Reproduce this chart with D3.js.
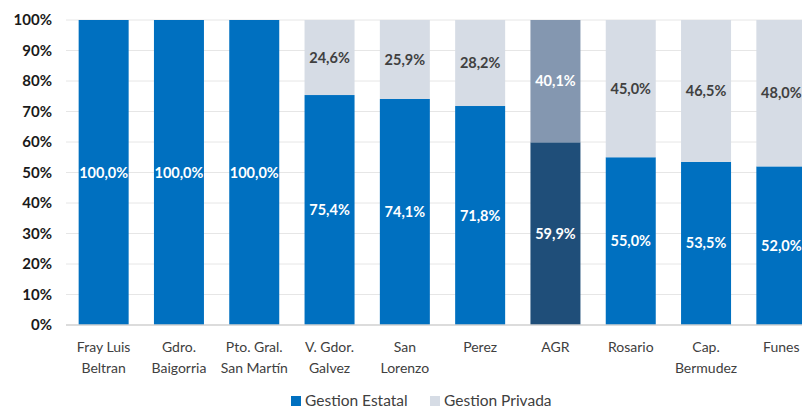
<!DOCTYPE html>
<html>
<head>
<meta charset="utf-8">
<script src="https://cdn.jsdelivr.net/npm/d3@7"></script>
<style>
  body { margin: 0; background: #fff; }
  svg text { font-family: Lato, "Open Sans", sans-serif; }
</style>
</head>
<body>
<svg id="chart" width="802" height="410"></svg>
<script>
// categories (each label split in two lines)
const categories = [
  ["Fray Luis", "Beltran"],
  ["Gdro.", "Baigorria"],
  ["Pto. Gral.", "San Martín"],
  ["V. Gdor.", "Galvez"],
  ["San", "Lorenzo"],
  ["Perez"],
  ["AGR"],
  ["Rosario"],
  ["Cap.", "Bermudez"],
  ["Funes"]
];
const estatal = [100.0, 100.0, 100.0, 75.4, 74.1, 71.8, 59.9, 55.0, 53.5, 52.0];
const privada = [0, 0, 0, 24.6, 25.9, 28.2, 40.1, 45.0, 46.5, 48.0];
const yTicks = [0, 10, 20, 30, 40, 50, 60, 70, 80, 90, 100];
const seriesNames = ["Gestion Estatal", "Gestion Privada"];

const margin = { top: 20, right: -17, bottom: 85, left: 66 };
const width = 802 - margin.left - margin.right;
const height = 410 - margin.top - margin.bottom;

const svg = d3.select("#chart");
const g = svg.append("g").attr("transform", `translate(${margin.left},${margin.top})`);

const keys = categories.map((c, i) => i);
const x = d3.scaleBand().domain(keys).range([0, width]).paddingInner(0.336).paddingOuter(0.168);
const y = d3.scaleLinear().domain([0, 100]).range([height, 0]);

const fmt = v => v.toFixed(1).replace(".", ",") + "%";
const isAgr = i => categories[i][0] === "AGR";

// grid
g.selectAll(".grid").data(yTicks.slice(1)).enter().append("line")
  .attr("x1", 0).attr("x2", width)
  .attr("y1", d => y(d)).attr("y2", d => y(d))
  .attr("stroke", "#e6e6e6").attr("stroke-width", 1);

// y axis labels
const yAxis = g.append("g").call(d3.axisLeft(y).tickValues(yTicks).tickFormat(d => d + "%").tickSize(0).tickPadding(14));
yAxis.select(".domain").remove();
yAxis.selectAll("text")
  .attr("font-size", 15).attr("font-weight", "bold").attr("fill", "#1a1a1a")
  .style("font-family", "Lato, sans-serif");

// bars
const estColor = i => isAgr(i) ? "#1f4e79" : "#0070c0";
const priColor = i => isAgr(i) ? "#8497b0" : "#d6dce5";

g.selectAll(".est").data(keys).enter().append("rect")
  .attr("x", i => x(i)).attr("width", x.bandwidth())
  .attr("y", i => y(estatal[i])).attr("height", i => y(0) - y(estatal[i]))
  .attr("fill", estColor);

g.selectAll(".pri").data(keys.filter(i => privada[i] > 0)).enter().append("rect")
  .attr("x", i => x(i)).attr("width", x.bandwidth())
  .attr("y", i => y(estatal[i] + privada[i])).attr("height", i => y(estatal[i]) - y(estatal[i] + privada[i]))
  .attr("fill", priColor);

// baseline
g.append("line").attr("x1", 0).attr("x2", width).attr("y1", y(0)).attr("y2", y(0))
  .attr("stroke", "#d0d0d0").attr("stroke-width", 1.5);

// value labels
g.selectAll(".estLbl").data(keys).enter().append("text")
  .attr("x", i => x(i) + x.bandwidth() / 2)
  .attr("y", i => y(estatal[i] / 2))
  .attr("dy", "0.35em").attr("text-anchor", "middle")
  .attr("font-size", 14.5).attr("font-weight", "bold").attr("fill", "#fff")
  .text(i => fmt(estatal[i]));

g.selectAll(".priLbl").data(keys.filter(i => privada[i] > 0)).enter().append("text")
  .attr("x", i => x(i) + x.bandwidth() / 2)
  .attr("y", i => y(estatal[i] + privada[i] / 2))
  .attr("dy", "0.35em").attr("text-anchor", "middle")
  .attr("font-size", 14.5).attr("font-weight", "bold")
  .attr("fill", i => isAgr(i) ? "#fff" : "#404040")
  .text(i => fmt(privada[i]));

// category labels
const cat = g.selectAll(".cat").data(keys).enter().append("text")
  .attr("x", i => x(i) + x.bandwidth() / 2)
  .attr("y", height + 27)
  .attr("text-anchor", "middle").attr("font-size", 14).attr("fill", "#404040");
cat.selectAll("tspan").data(i => categories[i].map(t => ({ t, i }))).enter().append("tspan")
  .attr("x", d => x(d.i) + x.bandwidth() / 2)
  .attr("dy", (d, j) => j === 0 ? 0 : 21)
  .text(d => d.t);

// legend
const legend = svg.append("g").attr("transform", "translate(291,401)");
const legColors = ["#0070c0", "#d6dce5"];
const legX = [0, 139];
seriesNames.forEach((name, k) => {
  legend.append("rect").attr("x", legX[k]).attr("y", -5).attr("width", 10).attr("height", 10).attr("fill", legColors[k]);
  legend.append("text").attr("x", legX[k] + 14).attr("y", 0).attr("dy", "0.35em")
    .attr("font-size", 15.5).attr("fill", "#404040").text(name);
});
</script>
</body>
</html>
